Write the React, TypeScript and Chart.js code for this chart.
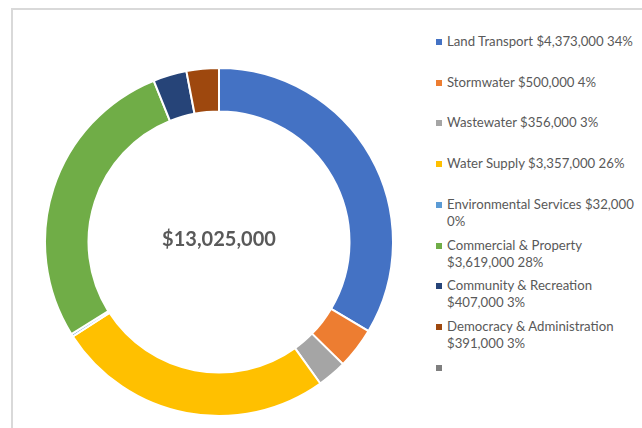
import React, { useEffect, useRef } from "react";
import { Chart, registerables } from "chart.js";

Chart.register(...registerables);

const categories = [
  "Land Transport",
  "Stormwater",
  "Wastewater",
  "Water Supply",
  "Environmental Services",
  "Commercial & Property",
  "Community & Recreation",
  "Democracy & Administration",
];
const values = [4373000, 500000, 356000, 3357000, 32000, 3619000, 407000, 391000];
const colors = ["#4472C4", "#ED7D31", "#A5A5A5", "#FFC000", "#5B9BD5", "#70AD47", "#264478", "#9E480E"];
const extraLegendColor = "#7F7F7F";
const centerLabel = "$13,025,000";

const total = values.reduce((a, b) => a + b, 0);
const fmt = (v: number) => "$" + v.toLocaleString("en-US");
const pct = (v: number) => Math.round((v / total) * 100) + "%";

const centerTextPlugin = {
  id: "centerText",
  afterDraw(chart: any) {
    const meta = chart.getDatasetMeta(0);
    const arc = meta.data[0];
    if (!arc) return;
    const { x, y } = arc;
    const ctx = chart.ctx;
    ctx.save();
    ctx.font = "bold 20px Lato";
    ctx.fillStyle = "#595959";
    ctx.textAlign = "center";
    ctx.textBaseline = "middle";
    ctx.fillText(centerLabel, x, y - 2);
    ctx.restore();
  },
};

export default function App() {
  const ref = useRef<HTMLCanvasElement>(null);
  useEffect(() => {
    document.body.style.margin = "0";
    const chart = new Chart(ref.current!, {
      type: "doughnut",
      data: {
        labels: categories,
        datasets: [
          {
            data: values,
            backgroundColor: colors,
            borderColor: "#ffffff",
            borderWidth: 2,
          },
        ],
      },
      options: {
        animation: false,
        responsive: false,
        cutout: "75%",
        layout: { padding: 0 },
        plugins: { legend: { display: false }, tooltip: { enabled: false } },
      },
      plugins: [centerTextPlugin],
    });
    return () => chart.destroy();
  }, []);

  const items = categories.map((c, i) => ({
    color: colors[i],
    text: `${c} ${fmt(values[i])} ${pct(values[i])}`,
  }));
  items.push({ color: extraLegendColor, text: "" });

  return (
    <div
      style={{
        position: "fixed",
        left: 0,
        top: 0,
        width: 642,
        height: 428,
        background: "#fff",
        overflow: "hidden",
        fontFamily: "Lato, sans-serif",
      }}
    >
      <div
        style={{
          position: "absolute",
          left: 11,
          top: 8,
          width: 700,
          height: 500,
          border: "2px solid #d9d9d9",
        }}
      />
      <canvas
        ref={ref}
        width={350}
        height={350}
        style={{ position: "absolute", left: 44, top: 67, width: 350, height: 350 }}
      />
      {items.map((it, i) => (
        <div
          key={i}
          style={{
            position: "absolute",
            left: 436,
            top: 33 + i * 40.7,
            width: 205,
            display: "flex",
            alignItems: "flex-start",
            color: "#595959",
            fontSize: 13.2,
            lineHeight: "17px",
          }}
        >
          <span
            style={{
              display: "inline-block",
              width: 6,
              height: 6,
              background: it.color,
              marginTop: 6,
              marginRight: 5,
              flex: "none",
            }}
          />
          <span>{it.text}</span>
        </div>
      ))}
    </div>
  );
}
